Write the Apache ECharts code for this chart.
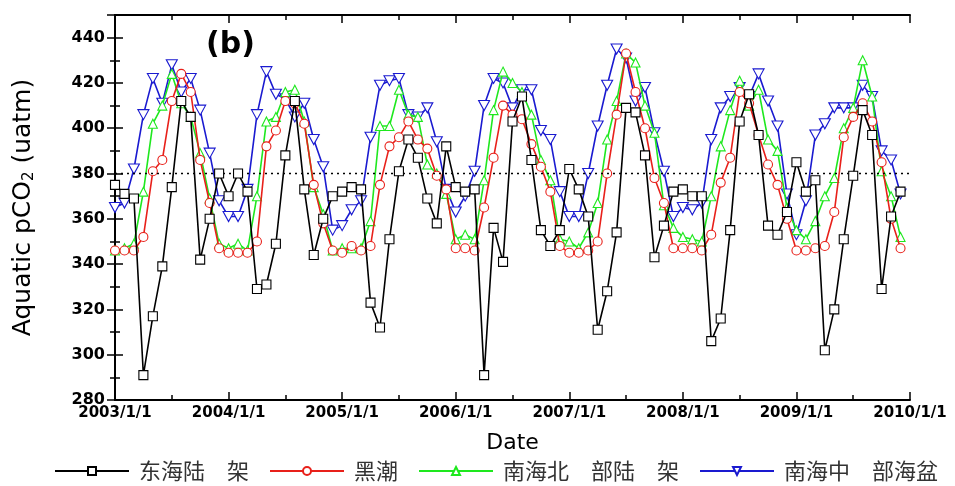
<!DOCTYPE html>
<html>
<head>
<meta charset="utf-8">
<script src="https://cdn.jsdelivr.net/npm/echarts@6/dist/echarts.min.js"></script>
<style>
  html, body { margin: 0; padding: 0; background: #fff; }
  #chart { width: 955px; height: 486px; }
</style>
</head>
<body>
<div id="chart"></div>
<script>
// monthly pCO2, 2003/1 .. 2009/12 (84 months)
var yearLabels = ['2003/1/1', '2004/1/1', '2005/1/1', '2006/1/1', '2007/1/1', '2008/1/1', '2009/1/1', '2010/1/1'];
var names = ['东海陆　架', '黑潮', '南海北　部陆　架', '南海中　部海盆'];

var eastShelf = [375, 371, 369, 291, 317, 339, 374, 412, 405, 342, 360, 380,
    370, 380, 372, 329, 331, 349, 388, 412, 373, 344, 360, 370,
    372, 374, 373, 323, 312, 351, 381, 395, 387, 369, 358, 392,
    374, 372, 373, 291, 356, 341, 403, 414, 386, 355, 348, 355,
    382, 373, 361, 311, 328, 354, 409, 407, 388, 343, 357, 372,
    373, 370, 370, 306, 316, 355, 403, 415, 397, 357, 353, 363,
    385, 372, 377, 302, 320, 351, 379, 408, 397, 329, 361, 372];

var kuroshio = [346, 346, 346, 352, 381, 386, 412, 424, 416, 386, 367, 347,
    345, 345, 345, 350, 392, 399, 412, 411, 402, 375, 358, 346,
    345, 348, 346, 348, 375, 392, 396, 403, 395, 391, 379, 373,
    347, 347, 346, 365, 387, 410, 406, 404, 393, 383, 372, 348,
    345, 345, 346, 350, 380, 406, 433, 416, 400, 378, 367, 347,
    347, 347, 346, 353, 376, 387, 416, 411, 397, 384, 375, 360,
    346, 346, 347, 348, 363, 396, 405, 411, 403, 385, 360, 347];

var scsNorth = [346, 347, 349, 372, 402, 410, 424, 411, 405, 389, 369, 349,
    347, 349, 346, 370, 403, 405, 416, 417, 403, 374, 362, 346,
    347, 347, 347, 359, 401, 401, 417, 406, 405, 384, 380, 371,
    351, 353, 351, 377, 408, 425, 420, 416, 406, 386, 377, 351,
    350, 347, 354, 367, 395, 412, 433, 429, 410, 398, 366, 356,
    352, 351, 350, 370, 392, 408, 421, 410, 417, 395, 390, 365,
    355, 351, 359, 370, 378, 400, 409, 430, 414, 381, 370, 352];

var scsBasin = [365, 367, 382, 406, 422, 411, 428, 416, 422, 408, 389, 368,
    361, 361, 373, 406, 425, 415, 413, 405, 411, 395, 383, 355,
    357, 364, 368, 396, 419, 421, 422, 406, 405, 409, 394, 373,
    363, 370, 381, 410, 422, 420, 409, 417, 417, 399, 395, 372,
    361, 361, 380, 401, 419, 435, 431, 412, 418, 398, 381, 361,
    365, 364, 367, 395, 409, 414, 418, 414, 424, 412, 401, 371,
    353, 368, 397, 402, 409, 409, 409, 419, 414, 390, 386, 371];

var colors = ['#000000', '#e8201a', '#1ee81e', '#1a1ad0'];
var symbols = ['rect', 'circle', 'triangle', 'path://M0,0 L10,0 L5,9 Z'];

function toPoints(arr) {
    return arr.map(function (v, i) { return [i, v]; });
}

var myChart = echarts.init(document.getElementById('chart'));

var seriesData = [eastShelf, kuroshio, scsNorth, scsBasin];
var series = seriesData.map(function (arr, i) {
    return {
        name: names[i],
        type: 'line',
        data: toPoints(arr),
        symbol: symbols[i],
        symbolSize: i === 3 ? [11, 10] : 9,
        showAllSymbol: true,
        lineStyle: { color: colors[i], width: 1.6 },
        itemStyle: { color: '#fff', borderColor: colors[i], borderWidth: 1.1 },
        emphasis: { disabled: true },
        z: 2 + (3 - i)
    };
});
// dotted reference line
series[0].markLine = {
    silent: true,
    symbol: ['none', 'none'],
    label: { show: false },
    lineStyle: { color: '#000', type: [2, 4], width: 1.3 },
    data: [{ yAxis: 380 }]
};

var tickStyle = { inside: true, length: 8, lineStyle: { color: '#000', width: 1.5 } };
var minorStyle = { show: true, splitNumber: 2, length: 5, lineStyle: { color: '#000', width: 1.5 } };
var lineStyleAxis = { show: true, lineStyle: { color: '#000', width: 2 } };
var wideFont = 'DejaVu Sans, sans-serif';

var option = {
    animation: false,
    textStyle: { fontFamily: wideFont },
    grid: { left: 115, right: 45, top: 15, bottom: 86 },
    title: {
        text: '(b)',
        left: 201,
        top: 25,
        textStyle: { fontSize: 30, fontWeight: 'bold', color: '#000', fontFamily: wideFont }
    },
    legend: {
        bottom: 4,
        left: 54,
        right: 0,
        padding: 0,
        itemWidth: 74,
        itemHeight: 10,
        itemGap: 20,
        textStyle: { fontSize: 22, color: '#333', fontFamily: 'Noto Sans CJK SC', padding: [0, 0, 0, 5] },
        data: names
    },
    xAxis: [{
        type: 'value',
        min: 0,
        max: 84,
        interval: 12,
        name: 'Date',
        nameLocation: 'middle',
        nameGap: 32,
        nameTextStyle: { fontSize: 22, color: '#000', fontFamily: wideFont },
        axisLine: lineStyleAxis,
        axisTick: tickStyle,
        minorTick: minorStyle,
        splitLine: { show: false },
        axisLabel: {
            color: '#000', fontWeight: 'bold', fontSize: 15, margin: 6, fontFamily: wideFont,
            formatter: function (v) { return yearLabels[Math.round(v / 12)]; }
        }
    }, {
        type: 'value',
        position: 'top',
        min: 0,
        max: 84,
        interval: 12,
        axisLine: lineStyleAxis,
        axisTick: tickStyle,
        minorTick: minorStyle,
        splitLine: { show: false },
        axisLabel: { show: false }
    }],
    yAxis: [{
        type: 'value',
        min: 280,
        max: 450,
        interval: 20,
        name: 'Aquatic pCO{sub|2} (uatm)',
        nameLocation: 'middle',
        nameGap: 78,
        nameTextStyle: {
            fontSize: 25, color: '#000', fontFamily: wideFont,
            rich: { sub: { fontSize: 15, fontFamily: wideFont, verticalAlign: 'bottom', padding: [12, 0, 0, 0] } }
        },
        axisLine: lineStyleAxis,
        axisTick: tickStyle,
        minorTick: minorStyle,
        splitLine: { show: false },
        axisLabel: { color: '#000', fontWeight: 'bold', fontSize: 16, margin: 10, showMaxLabel: false, fontFamily: wideFont }
    }, {
        type: 'value',
        position: 'right',
        min: 280,
        max: 450,
        interval: 20,
        axisLine: lineStyleAxis,
        axisTick: tickStyle,
        minorTick: minorStyle,
        splitLine: { show: false },
        axisLabel: { show: false }
    }],
    series: series
};

myChart.setOption(option);
window.addEventListener('resize', function () {
    myChart.resize();
});
</script>
</body>
</html>
